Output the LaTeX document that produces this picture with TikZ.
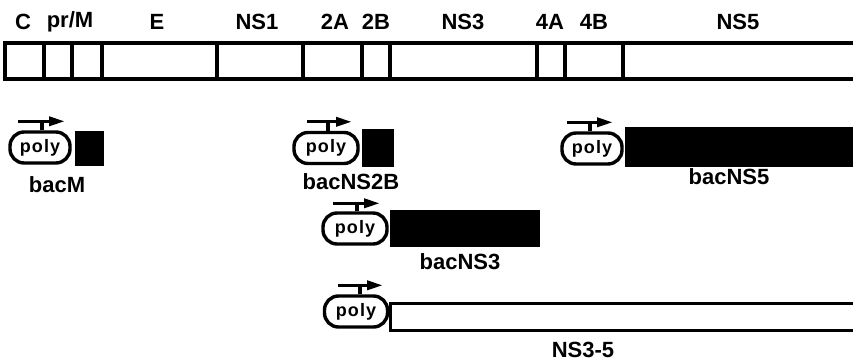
\documentclass[tikz,border=0pt]{standalone}
\usepackage{fontspec}
\setmainfont{Liberation Sans}
\newfontfamily\polyfont[LetterSpace=6]{Liberation Sans}
\usetikzlibrary{positioning,arrows.meta}
\tikzset{
  seg/.style={draw,line width=3.6pt,inner sep=0pt,outer sep=0pt,
    minimum height=36pt,anchor=north west},
  lab/.style={font=\fontsize{22}{22}\selectfont\bfseries,inner sep=0pt},
  polybox/.style={draw,line width=3.4pt,rounded corners=14pt,inner sep=0pt,
    minimum width=60pt,minimum height=31pt,font=\fontsize{18}{18}\polyfont\bfseries},
  orf/.style={fill=black,inner sep=0pt,outer sep=0pt,anchor=south west},
  orfopen/.style={draw,line width=3.4pt,inner sep=0pt,outer sep=0pt,anchor=south west},
  prom/.style={line width=3.4pt,-{Triangle[length=16pt,width=9pt]}},
  tick/.style={line width=3.4pt}
}
\begin{document}
\begin{tikzpicture}[x=1pt,y=-1pt]
  \useasboundingbox (0,0) rectangle (853,363);
  % genome
  \foreach \a/\b/\n in {5/44/C,44/72/pr,72/102/M,102/217/E,217/303/NS1,
      303/362/2A,362/390/2B,390/537/NS3,537/565/4A,565/623/4B,623/870/NS5}
    \node[seg,minimum width=\b pt-\a pt] (g\n) at (\a,43) {};
  \foreach \x/\t in {23/C,70/{pr/M},157/E,257/NS1,335/2A,376/2B,463/NS3,
      550/4A,594/4B,738/NS5}
    \node[lab] at (\x,22) {\t};

  % bacM
  \node[polybox] (pM) at (40,147.5) {poly};
  \node[orf,minimum width=29pt,minimum height=35pt] (oM)
    at ([xshift=3pt,yshift=-1.7pt]pM.south east) {};
  \coordinate (aM) at ([xshift=-22pt,yshift=9pt]pM.north);
  \draw[prom] (aM) -- ++(47,0);
  \draw[tick] ([xshift=2pt]pM.north) -- ++(0,-9);
  \node[lab] at (57,185) {bacM};

  % bacNS2B
  \node[polybox,minimum width=64pt] (p2B) at (326,148) {poly};
  \node[orf,minimum width=32pt,minimum height=38pt] (o2B)
    at ([xshift=2pt,yshift=-1.7pt]p2B.south east) {};
  \coordinate (a2B) at ([xshift=-19pt,yshift=9pt]p2B.north);
  \draw[prom] (a2B) -- ++(45,0);
  \draw[tick] ([xshift=2pt]p2B.north) -- ++(0,-9);
  \node[lab] at (351,182) {bacNS2B};

  % bacNS5
  \node[polybox] (p5) at (592,148.5) {poly};
  \node[orf,minimum width=240pt,minimum height=40pt] (o5)
    at ([xshift=1pt,yshift=-1.7pt]p5.south east) {};
  \coordinate (a5) at ([xshift=-25pt,yshift=9pt]p5.north);
  \draw[prom] (a5) -- ++(46,0);
  \draw[tick] ([xshift=-2pt]p5.north) -- ++(0,-9);
  \node[lab] at (729,177) {bacNS5};

  % bacNS3
  \node[polybox,minimum width=64pt] (p3) at (355,228.5) {poly};
  \node[orf,minimum width=150pt,minimum height=37pt] (o3)
    at ([xshift=1pt,yshift=-1.7pt]p3.south east) {};
  \coordinate (a3) at ([xshift=-22pt,yshift=8pt]p3.north);
  \draw[prom] (a3) -- ++(47,0);
  \draw[tick] ([xshift=2pt]p3.north) -- ++(0,-8);
  \node[lab] at (460,262) {bacNS3};

  % NS3-5
  \node[polybox,minimum width=63pt] (p35) at (356,311.5) {poly};
  \node[orfopen,minimum width=480pt,minimum height=27pt] (o35)
    at ([xshift=1pt,yshift=-1.7pt]p35.south east) {};
  \coordinate (a35) at ([xshift=-18pt,yshift=9pt]p35.north);
  \draw[prom] (a35) -- ++(45,0);
  \draw[tick] ([xshift=4pt]p35.north) -- ++(0,-9);
  \node[lab] at (583,350) {NS3-5};
\end{tikzpicture}
\end{document}
